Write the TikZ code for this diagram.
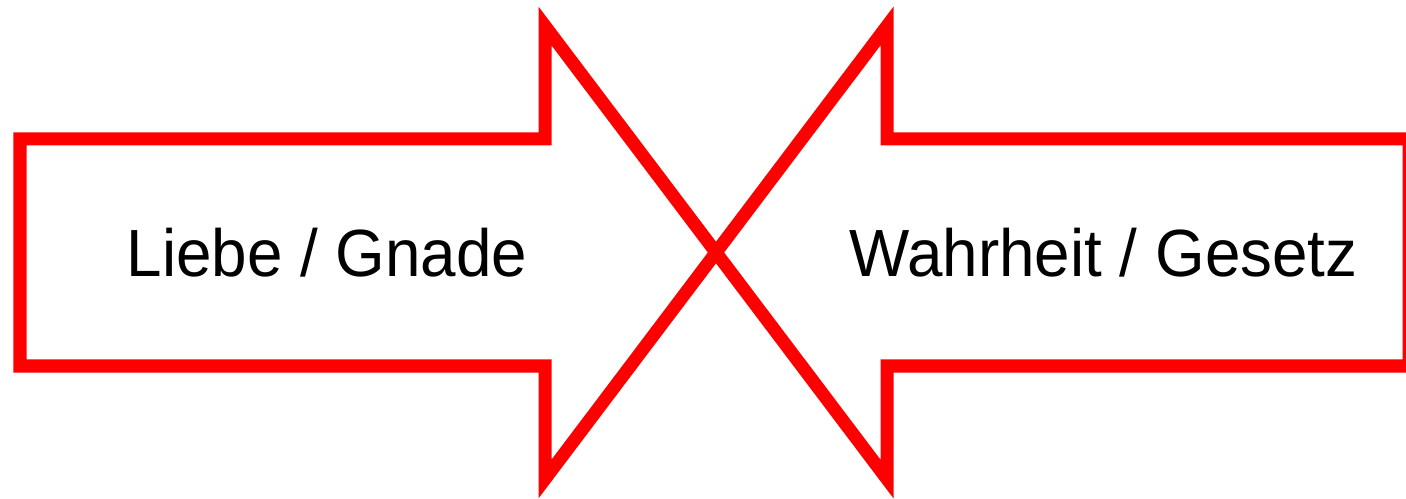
\documentclass[tikz,border=0pt]{standalone}
\usepackage{fontspec}
\setmainfont{Liberation Sans}
\usepackage{tikz}
\usetikzlibrary{positioning}
\definecolor{arrowred}{HTML}{FF0000}

\begin{document}
\begin{tikzpicture}[x=0.2mm, y=-0.2mm, every node/.style={font=\fontsize{38}{46}\selectfont}]
  \tikzset{bigarrow/.style={draw=arrowred, line width=7.4pt, miter limit=10},
           lbl/.style={anchor=base, inner sep=0pt, xscale=0.955}}
  \useasboundingbox (0,0) rectangle (1406,499);
  % left arrow, pointing right
  \draw[bigarrow] (20,139) -- (545,139) -- (545,26) -- (716,252.5) -- (545,479) -- (545,366) -- (20,366) -- cycle;
  % right arrow, pointing left
  \draw[bigarrow] (1409,139) -- (887,139) -- (887,26) -- (716,252.5) -- (887,479) -- (887,366) -- (1409,366) -- cycle;
  \node[lbl] (love) at (327,277) {Liebe / Gnade};
  \node[lbl] (truth) at (1103.5,277) {Wahrheit / Gesetz};
\end{tikzpicture}
\end{document}
